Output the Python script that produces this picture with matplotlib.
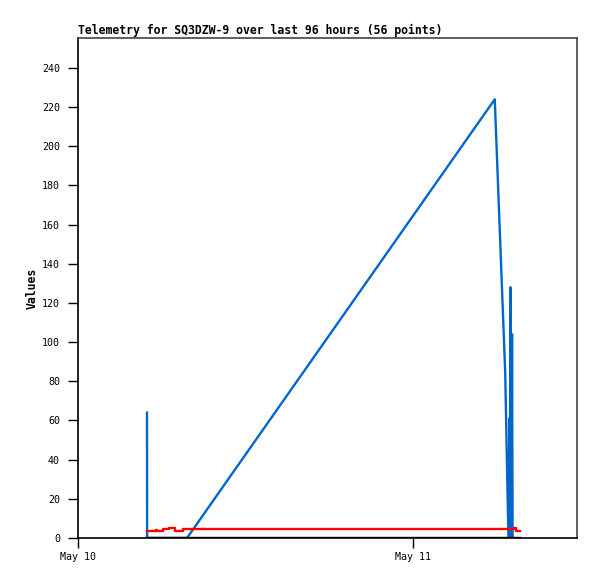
import matplotlib
matplotlib.use("Agg")
import matplotlib.pyplot as plt
from datetime import datetime, timedelta

start = datetime(2024, 5, 10)

# hours since May 10 00:00, values
blue_h = [4.95, 4.96, 7.82, 29.90, 30.55, 30.65, 30.88, 30.95, 30.98, 31.02, 31.06, 31.10, 31.14, 31.18, 31.21]
blue_v = [64, 0, 0, 224, 103, 84, 0, 61, 0, 128, 0, 0, 104, 0, 0]

red_h = [4.95, 5.60, 5.65, 5.70, 6.10, 6.55, 6.95, 7.50, 31.25, 31.45, 31.71]
red_v = [3.7, 4.1, 3.7, 3.7, 4.4, 5.0, 3.7, 4.75, 5.0, 3.7, 3.7]

black_h = [4.95, 31.71]
black_v = [0, 0]

x_ticks = [0, 24]
x_tick_labels = ["May 10", "May 11"]
y_ticks = list(range(0, 241, 20))

def to_dt(hs):
    return [start + timedelta(hours=h) for h in hs]

fig = plt.figure(figsize=(5.97, 5.79), dpi=100)
ax = fig.add_axes([78/597, 1-538/579, (577-78)/597, (538-38)/579])

mono = "DejaVu Sans Mono"
ax.plot(to_dt(blue_h), blue_v, color="#0066cc", lw=1.7)
ax.plot(to_dt(red_h), red_v, color="#ff0000", lw=1.7, drawstyle="steps-post")
ax.plot(to_dt(black_h), black_v, color="black", lw=1.7)

ax.set_xlim(start, start + timedelta(hours=35.8))
ax.set_ylim(0, 255.3)
ax.set_xticks(to_dt(x_ticks))
ax.set_xticklabels(x_tick_labels, fontfamily=mono, fontsize=7.2)
ax.set_yticks(y_ticks)
ax.set_yticklabels([str(v) for v in y_ticks], fontfamily=mono, fontsize=7.2)
ax.tick_params(axis="both", direction="out", length=7, width=1, color="black", pad=6)
ax.tick_params(axis="x", pad=3)

for s in ax.spines.values():
    s.set_color("#444444")
    s.set_linewidth(1.2)
ax.spines["left"].set_color("black")
ax.spines["bottom"].set_color("black")

ax.set_title("Telemetry for SQ3DZW-9 over last 96 hours (56 points)", loc="left",
             fontfamily=mono, fontweight="bold", fontsize=8.3, pad=3)
ax.set_ylabel("Values", fontfamily=mono, fontweight="bold", fontsize=8.3, labelpad=2)

fig.savefig("out.png", dpi=100)
